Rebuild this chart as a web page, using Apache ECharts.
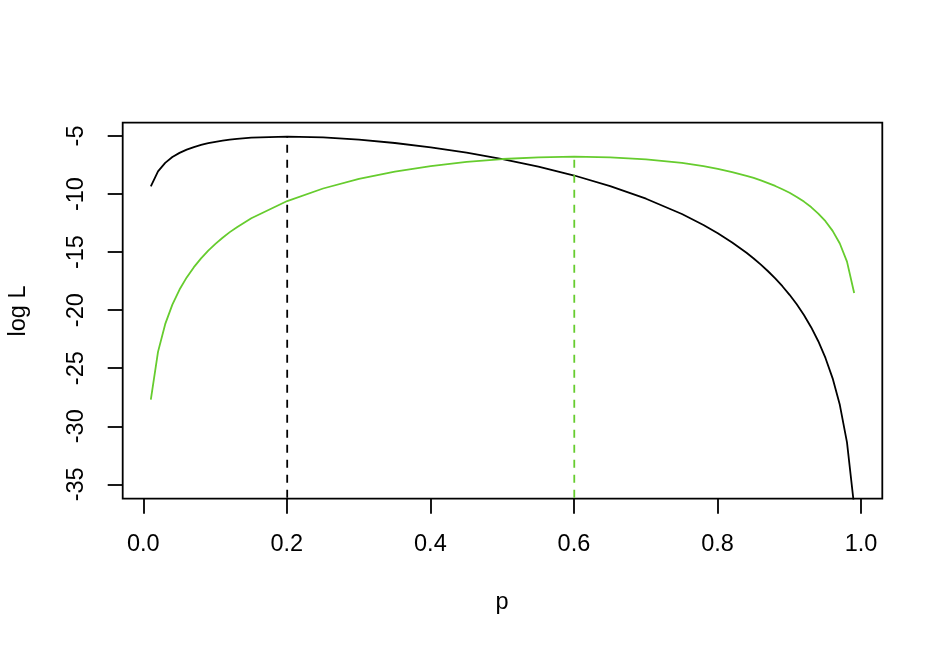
<!DOCTYPE html>
<html>
<head>
<meta charset="utf-8">
<script src="https://cdn.jsdelivr.net/npm/echarts@6/dist/echarts.min.js"></script>
<style>
  html, body { margin: 0; padding: 0; background: #fff; }
  #chart { width: 945px; height: 652px; }
</style>
</head>
<body>
<div id="chart"></div>
<script>
// values
const pValues = [0.01, 0.02, 0.03, 0.04, 0.05, 0.06, 0.07, 0.08, 0.09, 0.10, 0.11, 0.12, 0.13, 0.15, 0.20, 0.25, 0.30, 0.35, 0.40, 0.45, 0.50,
  0.55, 0.60, 0.65, 0.70, 0.75, 0.78, 0.80, 0.82, 0.84, 0.85, 0.86, 0.87, 0.88, 0.89, 0.90, 0.91, 0.92, 0.93, 0.94, 0.95, 0.96, 0.97, 0.98, 0.99];
const logLBlack = [-9.29, -7.99, -7.26, -6.76, -6.40, -6.12, -5.90, -5.72, -5.57, -5.45, -5.35, -5.26, -5.19, -5.09, -5.00, -5.07, -5.26, -5.55, -5.92, -6.38, -6.93,
  -7.58, -8.35, -9.26, -10.35, -11.67, -12.61, -13.32, -14.12, -15.01, -15.50, -16.03, -16.60, -17.22, -17.89, -18.63, -19.45, -20.37, -21.42, -22.63, -24.07, -25.83, -28.11, -31.34, -36.86];
const logLGreen = [-27.67, -23.55, -21.16, -19.48, -18.18, -17.13, -16.25, -15.49, -14.82, -14.24, -13.71, -13.23, -12.80, -12.03, -10.55, -9.47, -8.65, -8.02, -7.54, -7.18, -6.93,
  -6.78, -6.73, -6.78, -6.96, -7.27, -7.55, -7.78, -8.05, -8.38, -8.56, -8.77, -9.00, -9.25, -9.53, -9.84, -10.20, -10.60, -11.07, -11.63, -12.29, -13.12, -14.21, -15.77, -18.48];
const blackMax = [0.2, -5.00];
const greenMax = [0.6, -6.73];
const xTicks = [0, 0.2, 0.4, 0.6, 0.8, 1.0];
const yTicks = [-35, -30, -25, -20, -15, -10, -5];

const font = 'Liberation Sans, Arial, Helvetica, sans-serif';
const greenColor = '#66CC2E';

const chart = echarts.init(document.getElementById('chart'));

const pair = (ys) => pValues.map((p, i) => [p, ys[i]]);

const option = {
  animation: false,
  grid: [
    // plot box
    { left: 122.7, right: 62.7, top: 122.7, bottom: 153.3, show: true, borderColor: '#000', borderWidth: 1.8, backgroundColor: 'transparent' },
    // x tick grid (0.0 .. 1.0)
    { left: 143.3, right: 84, top: 122.7, bottom: 153.3 },
    // y tick grid (-35 .. -5)
    { left: 122.7, right: 62.7, top: 136, bottom: 167.7 }
  ],
  xAxis: [
    { gridIndex: 0, type: 'value', min: -0.0292, max: 1.0292, show: false },
    {
      gridIndex: 1, type: 'value', min: xTicks[0], max: xTicks[xTicks.length - 1], interval: 0.2,
      axisLine: { show: false },
      axisTick: { show: true, length: 15, lineStyle: { color: '#000', width: 1.8 } },
      splitLine: { show: false },
      axisLabel: { margin: 34, fontSize: 23.5, fontFamily: font, color: '#000', formatter: (v) => v.toFixed(1) }
    },
    { gridIndex: 2, type: 'value', min: 0, max: 1, show: false }
  ],
  yAxis: [
    { gridIndex: 0, type: 'value', min: -36.2, max: -3.8, show: false },
    { gridIndex: 1, type: 'value', min: 0, max: 1, show: false },
    {
      gridIndex: 2, type: 'value', min: yTicks[0], max: yTicks[yTicks.length - 1], interval: 5,
      axisLine: { show: false },
      axisTick: { show: true, length: 15, lineStyle: { color: '#000', width: 1.8 } },
      splitLine: { show: false },
      axisLabel: { margin: 34, rotate: 90, fontSize: 23.5, fontFamily: font, color: '#000' }
    }
  ],
  graphic: [
    { type: 'text', x: 502, y: 603, style: { text: 'p', font: '23.5px ' + font, fill: '#000', align: 'center', verticalAlign: 'middle' } },
    { type: 'text', x: 19, y: 311, rotation: Math.PI / 2, style: { text: 'log L', font: '23.5px ' + font, fill: '#000', align: 'center', verticalAlign: 'middle' } }
  ],
  series: [
    {
      type: 'line', xAxisIndex: 0, yAxisIndex: 0, data: pair(logLBlack), symbol: 'none', clip: true,
      lineStyle: { color: '#000', width: 1.8 }
    },
    {
      type: 'line', xAxisIndex: 0, yAxisIndex: 0, data: pair(logLGreen), symbol: 'none', clip: true,
      lineStyle: { color: greenColor, width: 1.8 }
    },
    {
      type: 'line', xAxisIndex: 0, yAxisIndex: 0, data: [[blackMax[0], -40], blackMax], symbol: 'none', clip: true,
      lineStyle: { color: '#000', width: 1.8, type: [8, 7] }
    },
    {
      type: 'line', xAxisIndex: 0, yAxisIndex: 0, data: [[greenMax[0], -40], greenMax], symbol: 'none', clip: true,
      lineStyle: { color: greenColor, width: 1.8, type: [8, 7] }
    }
  ]
};

chart.setOption(option);
</script>
</body>
</html>
